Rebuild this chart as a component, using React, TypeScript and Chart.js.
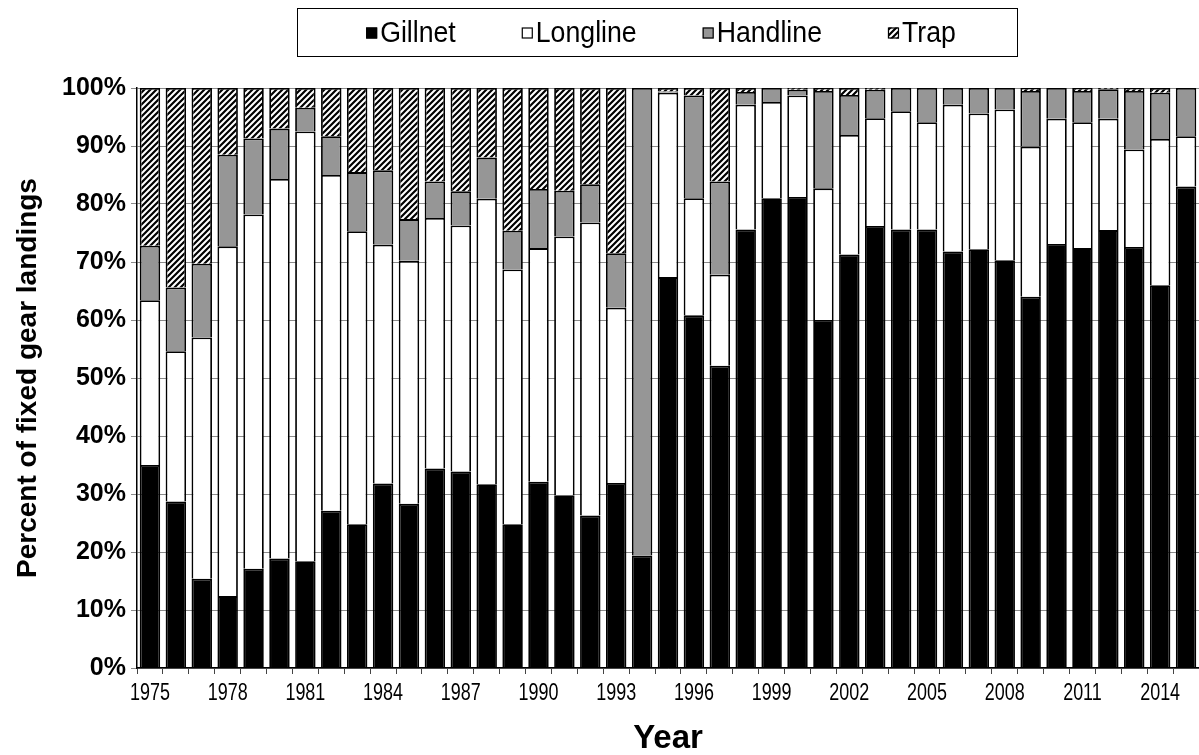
import { useEffect, useRef } from 'react';
import { Chart, registerables } from 'chart.js';

Chart.register(...registerables);

const FONT = '"Liberation Sans", Arial, Helvetica, sans-serif';

const years = [
  '1975', '1976', '1977', '1978', '1979', '1980', '1981', '1982', '1983', '1984',
  '1985', '1986', '1987', '1988', '1989', '1990', '1991', '1992', '1993', '1994',
  '1995', '1996', '1997', '1998', '1999', '2000', '2001', '2002', '2003', '2004',
  '2005', '2006', '2007', '2008', '2009', '2010', '2011', '2012', '2013', '2014', '2015',
];

const gillnet = [
  35.0, 28.7, 15.4, 12.4, 17.1, 18.9, 18.4, 27.1, 24.8, 31.8,
  28.3, 34.4, 33.9, 31.7, 24.8, 32.1, 29.8, 26.3, 31.9, 19.4,
  67.4, 60.8, 52.1, 75.6, 81.0, 81.2, 60.0, 71.3, 76.2, 75.6,
  75.6, 71.8, 72.2, 70.3, 64.0, 73.1, 72.4, 75.5, 72.6, 66.0, 83.0,
];

const longline = [
  28.4, 25.9, 41.6, 60.3, 61.1, 65.4, 74.1, 57.9, 50.5, 41.2,
  41.9, 43.2, 42.4, 49.2, 43.9, 40.3, 44.6, 50.5, 30.2, 0,
  31.8, 20.2, 15.7, 21.5, 16.6, 17.5, 22.7, 20.6, 18.6, 20.4,
  18.5, 25.3, 23.4, 26.0, 25.9, 21.6, 21.7, 19.2, 16.8, 25.2, 8.7,
];

const handline = [
  9.4, 11.0, 12.7, 15.8, 13.1, 8.7, 4.1, 6.7, 10.2, 12.8,
  7.2, 6.3, 5.9, 7.1, 6.7, 10.2, 7.9, 6.6, 9.4, 80.6,
  0.2, 17.7, 16.1, 2.2, 2.4, 1.0, 16.8, 6.9, 4.9, 4.0,
  5.9, 2.9, 4.4, 3.7, 9.6, 5.3, 5.4, 5.1, 10.1, 8.0, 8.3,
];

const trap = [
  27.2, 34.4, 30.3, 11.5, 8.7, 7.0, 3.4, 8.3, 14.5, 14.2,
  22.6, 16.1, 17.8, 12.0, 24.6, 17.4, 17.7, 16.6, 28.5, 0,
  0.6, 1.3, 16.1, 0.7, 0, 0.3, 0.5, 1.2, 0.3, 0,
  0, 0, 0, 0, 0.5, 0, 0.5, 0.2, 0.5, 0.8, 0,
];

const seriesNames = ['Gillnet', 'Longline', 'Handline', 'Trap'];
const xLabelStep = 3;

function makeHatch(ctx: CanvasRenderingContext2D): CanvasPattern | string {
  const s = 6;
  const c = document.createElement('canvas');
  c.width = s;
  c.height = s;
  const g = c.getContext('2d');
  if (!g) return '#555';
  g.fillStyle = '#ffffff';
  g.fillRect(0, 0, s, s);
  g.strokeStyle = '#000000';
  g.lineWidth = 2.2;
  g.beginPath();
  g.moveTo(-1, s + 1);
  g.lineTo(s + 1, -1);
  g.moveTo(-s / 2 - 1, s / 2 + 1);
  g.lineTo(s / 2 + 1, -s / 2 - 1);
  g.moveTo(s / 2 - 1, s * 1.5 + 1);
  g.lineTo(s * 1.5 + 1, s / 2 - 1);
  g.stroke();
  return ctx.createPattern(c, 'repeat') || '#555';
}

// Draws the boxed legend and the (horizontally condensed) year labels.
const textPlugin = {
  id: 'textPlugin',
  afterDraw(chart: any) {
    const ctx: CanvasRenderingContext2D = chart.ctx;

    // legend
    ctx.save();
    const x0 = 297;
    const x1 = 1017;
    const y0 = 8;
    const y1 = 56;
    ctx.strokeStyle = '#000';
    ctx.lineWidth = 1;
    ctx.strokeRect(x0 + 0.5, y0 + 0.5, x1 - x0, y1 - y0);
    ctx.font = `29px ${FONT}`;
    const squeeze = 0.92;
    const box = 11;
    const gap = 3;
    const spacing = 66;
    const items = chart.data.datasets.map((ds: any) => ({ label: ds.label, fill: ds.backgroundColor }));
    const textW = items.map((it: any) => ctx.measureText(it.label).width * squeeze);
    const widths = textW.map((w: number) => box + gap + w);
    const total = widths.reduce((a: number, b: number) => a + b, 0) + spacing * (items.length - 1);
    let x = (x0 + x1) / 2 - total / 2 + 4;
    const cy = (y0 + y1) / 2 + 1;
    items.forEach((it: any, i: number) => {
      ctx.fillStyle = it.fill;
      ctx.fillRect(x, cy - box / 2, box, box);
      ctx.strokeStyle = '#000';
      ctx.lineWidth = 1.2;
      ctx.strokeRect(x + 0.5, cy - box / 2 + 0.5, box - 1, box - 1);
      ctx.save();
      ctx.translate(x + box + gap, cy);
      ctx.scale(squeeze, 1);
      ctx.fillStyle = '#000';
      ctx.textBaseline = 'middle';
      ctx.textAlign = 'left';
      ctx.fillText(it.label, 0, 1);
      ctx.restore();
      x += widths[i] + spacing;
    });
    ctx.restore();

    // x tick labels
    const xs = chart.scales.x;
    ctx.save();
    ctx.font = `23px ${FONT}`;
    ctx.fillStyle = '#000';
    ctx.textAlign = 'center';
    ctx.textBaseline = 'middle';
    years.forEach((label, i) => {
      if (i % xLabelStep !== 0) return;
      const px = xs.getPixelForTick(i);
      ctx.save();
      ctx.translate(px, xs.top + 26);
      ctx.scale(0.78, 1);
      ctx.fillText(label, 0, 0);
      ctx.restore();
    });
    ctx.restore();
  },
};

export default function App() {
  const canvasRef = useRef<HTMLCanvasElement | null>(null);

  useEffect(() => {
    document.body.style.margin = '0';
    const canvas = canvasRef.current;
    if (!canvas) return;
    const ctx = canvas.getContext('2d');
    if (!ctx) return;
    const hatch = makeHatch(ctx);

    const common = {
      borderColor: '#000000',
      borderWidth: 1.8,
      barPercentage: 0.79,
      categoryPercentage: 1.0,
    };

    const chart = new Chart(ctx, {
      type: 'bar',
      data: {
        labels: years,
        datasets: [
          { label: seriesNames[0], data: gillnet, backgroundColor: '#000000', ...common },
          { label: seriesNames[1], data: longline, backgroundColor: '#ffffff', ...common },
          { label: seriesNames[2], data: handline, backgroundColor: '#969696', ...common },
          { label: seriesNames[3], data: trap, backgroundColor: hatch as any, ...common },
        ],
      },
      options: {
        animation: false,
        responsive: true,
        maintainAspectRatio: false,
        devicePixelRatio: 1,
        layout: { padding: { top: 88, right: 0, bottom: 0, left: 0 } },
        plugins: {
          legend: { display: false },
          tooltip: { enabled: false },
          title: { display: false },
        },
        scales: {
          x: {
            stacked: true,
            offset: true,
            grid: {
              display: true,
              drawOnChartArea: false,
              drawTicks: true,
              tickLength: 6,
              color: '#444444',
              offset: true,
            },
            border: { display: true, color: '#000000', width: 1.5 },
            ticks: { display: false, autoSkip: false },
            title: {
              display: true,
              text: 'Year',
              color: '#000000',
              font: { family: FONT, size: 33, weight: 'bold', lineHeight: 1 },
              padding: { top: 0, bottom: 0 },
            },
            afterFit: (s: any) => {
              s.height = 87;
            },
          },
          y: {
            stacked: true,
            min: 0,
            max: 100,
            grid: { color: '#8a8a8a', lineWidth: 1, tickLength: 6 },
            border: { display: true, color: '#000000', width: 1.5 },
            ticks: {
              stepSize: 10,
              padding: 5,
              color: '#000000',
              font: { family: FONT, size: 25, weight: 'bold' },
              callback: (v: any) => `${v}%`,
            },
            title: {
              display: true,
              text: 'Percent of fixed gear landings',
              color: '#000000',
              font: { family: FONT, size: 28, weight: 'bold', lineHeight: 1 },
              padding: { top: 14, bottom: 0 },
            },
            afterFit: (s: any) => {
              s.width = 137;
            },
          },
        },
      } as any,
      plugins: [textPlugin],
    });

    return () => {
      chart.destroy();
    };
  }, []);

  return (
    <div style={{ position: 'relative', width: '1199px', height: '755px' }}>
      <canvas ref={canvasRef} />
    </div>
  );
}
